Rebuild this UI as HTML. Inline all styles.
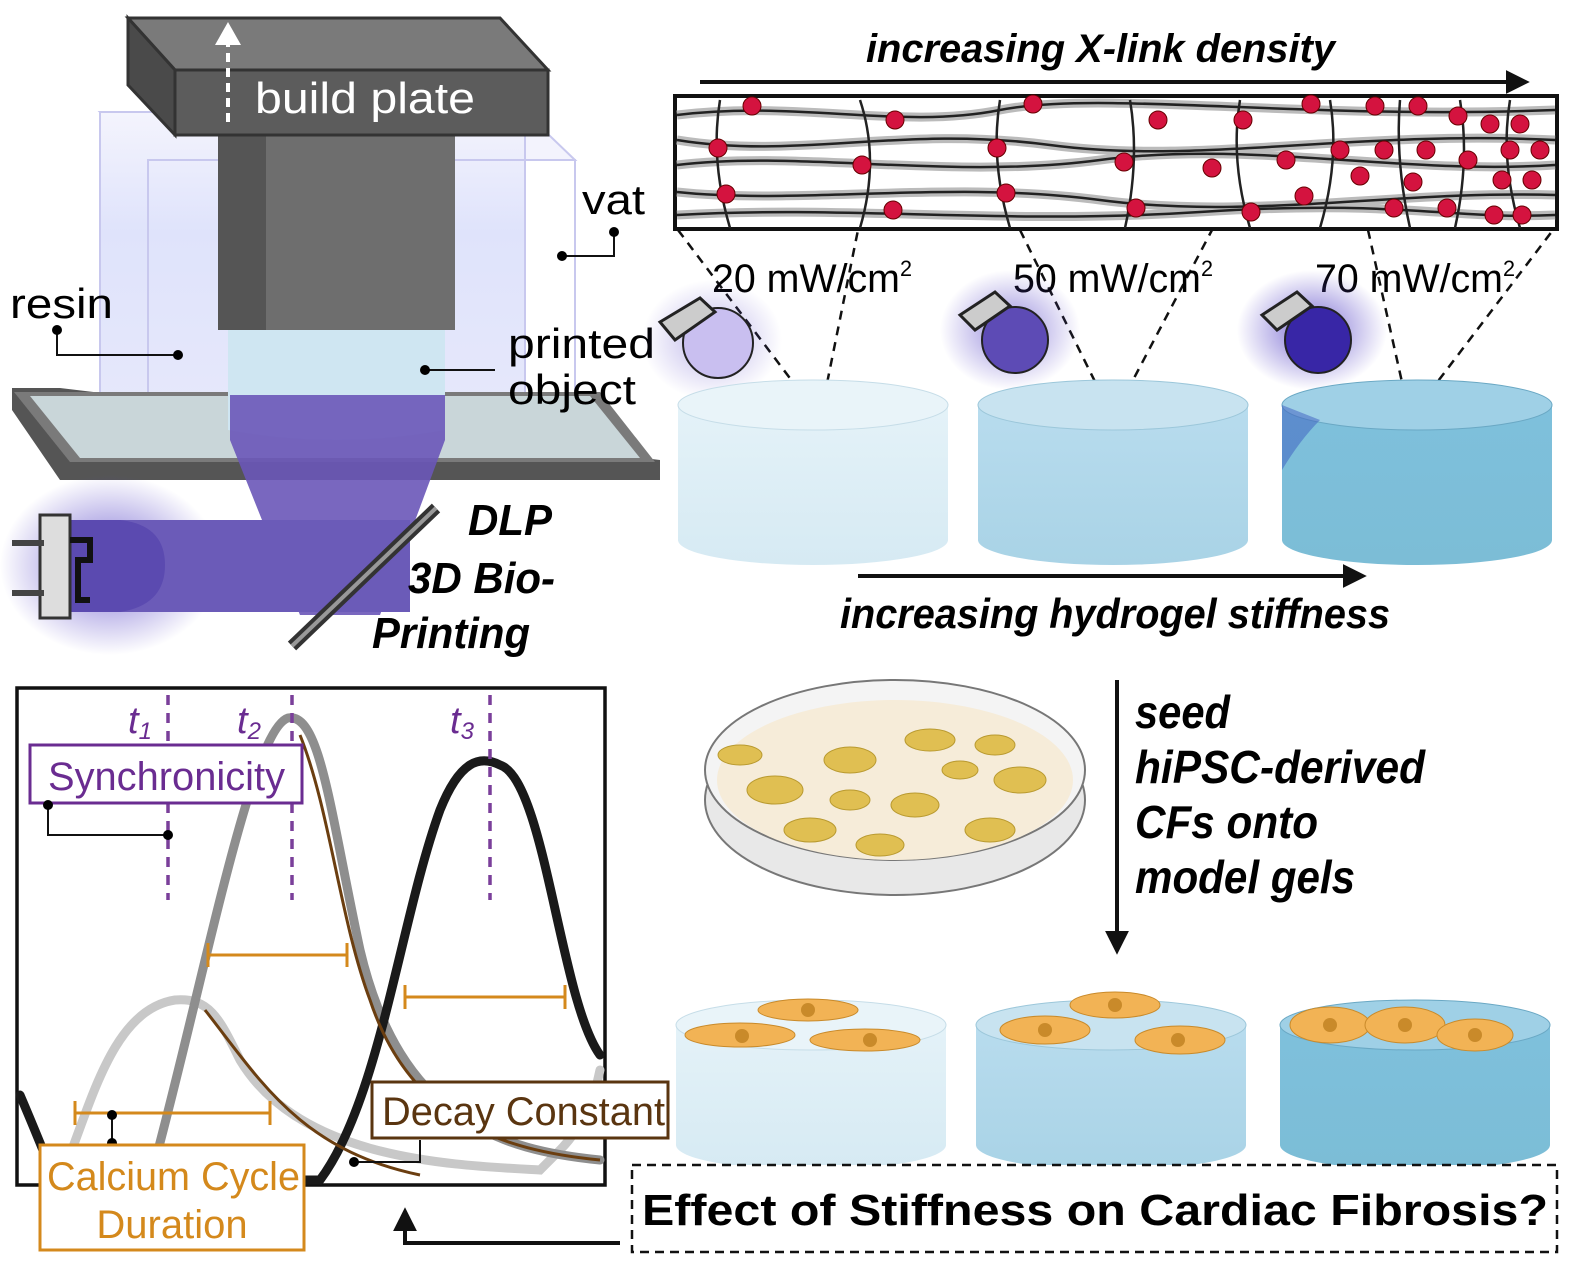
<!DOCTYPE html>
<html><head><meta charset="utf-8"><style>
html,body{margin:0;padding:0;background:#fff}
svg{display:block}
text{font-family:"Liberation Sans",sans-serif}
.bi{font-weight:bold;font-style:italic}
</style></head><body>
<svg width="1575" height="1268" viewBox="0 0 1575 1268" xmlns="http://www.w3.org/2000/svg">
<defs>
<linearGradient id="vatg" x1="0" y1="0" x2="0" y2="1"><stop offset="0" stop-color="#f4f4fd"/><stop offset="0.4" stop-color="#dfe3fb"/><stop offset="1" stop-color="#e6e8fb"/></linearGradient>
<radialGradient id="glow" cx="0.5" cy="0.5" r="0.5"><stop offset="0" stop-color="#5a48c8" stop-opacity="0.8"/><stop offset="1" stop-color="#5a48c8" stop-opacity="0"/></radialGradient>
<linearGradient id="g1" x1="0" y1="0" x2="0" y2="1"><stop offset="0" stop-color="#e4f2f8"/><stop offset="1" stop-color="#d6eaf3"/></linearGradient>
<linearGradient id="g2" x1="0" y1="0" x2="0" y2="1"><stop offset="0" stop-color="#b8dcee"/><stop offset="1" stop-color="#a9d3e6"/></linearGradient>
<linearGradient id="g3" x1="0" y1="0" x2="0" y2="1"><stop offset="0" stop-color="#7ec0dc"/><stop offset="1" stop-color="#7cbdd6"/></linearGradient>
<marker id="ah" viewBox="0 0 10 10" refX="8" refY="5" markerWidth="6" markerHeight="6" orient="auto"><path d="M0,0L10,5L0,10z" fill="#111"/></marker>
</defs>

<polygon points="100,112 148,160 575,160 525,112" fill="#f3f3fd" stroke="#c8c8ee" stroke-width="2"/>
<rect x="100" y="112" width="425" height="300" fill="url(#vatg)" stroke="#c8c8ee" stroke-width="2"/>
<rect x="148" y="160" width="427" height="282" fill="none" stroke="#c8c8ee" stroke-width="2"/>
<polygon points="12,388 60,388 660,460 660,480 60,480 12,410" fill="#555"/>
<polygon points="14,392 600,392 655,462 70,462" fill="#7a7a7a"/>
<polygon points="30,396 590,396 640,458 80,458" fill="#c9d6d9"/>
<rect x="218" y="135" width="237" height="195" fill="#6e6e6e"/>
<rect x="218" y="135" width="48" height="195" fill="#555"/>
<path d="M228,330 L445,330 L445,430 Q336,450 228,430 Z" fill="#cfe6f2"/>
<path d="M230,395 L445,395 L445,440 L380,615 L300,615 L230,440 Z" fill="#6a56b8" opacity="0.9"/>
<ellipse cx="110" cy="565" rx="110" ry="90" fill="url(#glow)"/>
<rect x="110" y="520" width="300" height="92" fill="#6b5bb8"/>
<path d="M60,520 L120,520 Q165,525 165,565 Q165,605 120,612 L60,612 Z" fill="#5b4ab0"/>
<rect x="40" y="515" width="30" height="103" fill="#ddd" stroke="#333" stroke-width="3"/>
<rect x="12" y="540" width="32" height="6" fill="#444"/><rect x="12" y="590" width="32" height="6" fill="#444"/>
<path d="M70,540 L90,540 L90,560 L78,560 L78,600 L90,600" fill="none" stroke="#111" stroke-width="6"/>
<line x1="292" y1="646" x2="436" y2="508" stroke="#333" stroke-width="12"/>
<line x1="292" y1="646" x2="436" y2="508" stroke="#999" stroke-width="4"/>
<polygon points="128,18 500,18 548,70 175,70" fill="#7a7a7a" stroke="#333" stroke-width="3"/>
<polygon points="128,18 175,70 175,135 128,85" fill="#4a4a4a" stroke="#333" stroke-width="3"/>
<rect x="175" y="70" width="373" height="65" fill="#5c5c5c" stroke="#333" stroke-width="3"/>
<text x="255" y="113" font-size="44" fill="#fff" textLength="220" lengthAdjust="spacingAndGlyphs">build plate</text>
<line x1="228" y1="122" x2="228" y2="40" stroke="#fff" stroke-width="4" stroke-dasharray="9,6"/>
<polygon points="215,45 228,22 241,45" fill="#fff"/>
<text x="582" y="214" font-size="42" textLength="63" lengthAdjust="spacingAndGlyphs">vat</text>
<path d="M614,232 L614,256 L562,256" fill="none" stroke="#111" stroke-width="2"/><circle cx="614" cy="232" r="5"/><circle cx="562" cy="256" r="5"/>
<text x="10" y="318" font-size="42" textLength="103" lengthAdjust="spacingAndGlyphs">resin</text>
<path d="M57,330 L57,355 L178,355" fill="none" stroke="#111" stroke-width="2"/><circle cx="57" cy="330" r="5"/><circle cx="178" cy="355" r="5"/>
<text x="508" y="358" font-size="42" textLength="147" lengthAdjust="spacingAndGlyphs">printed</text>
<text x="508" y="404" font-size="42" textLength="128" lengthAdjust="spacingAndGlyphs">object</text>
<path d="M425,370 L495,370" stroke="#111" stroke-width="2"/><circle cx="425" cy="370" r="5"/>
<text x="468" y="535" font-size="44" class="bi" textLength="84" lengthAdjust="spacingAndGlyphs">DLP</text>
<text x="408" y="593" font-size="44" class="bi" textLength="147" lengthAdjust="spacingAndGlyphs">3D Bio-</text>
<text x="372" y="648" font-size="44" class="bi" textLength="158" lengthAdjust="spacingAndGlyphs">Printing</text>

<text x="866" y="62" font-size="40" class="bi" textLength="469" lengthAdjust="spacingAndGlyphs">increasing X-link density</text>
<line x1="700" y1="82" x2="1525" y2="82" stroke="#111" stroke-width="4" marker-end="url(#ah)"/>
<rect x="675" y="96" width="882" height="133" fill="#fff" stroke="#111" stroke-width="4"/>
<g fill="none" stroke="#bbb" stroke-width="9">
<path d="M677,115 C800,100 900,130 1000,110 S1300,120 1555,110"/>
<path d="M677,140 C800,160 900,125 1050,145 S1350,130 1555,140"/>
<path d="M677,165 C800,150 950,180 1100,160 S1400,175 1555,165"/>
<path d="M677,192 C800,205 950,180 1100,200 S1400,190 1555,195"/>
<path d="M677,215 C850,205 1000,225 1200,212 S1450,220 1555,215"/>
</g>
<g fill="none" stroke="#222" stroke-width="2.5">
<path d="M677,115 C800,100 900,130 1000,110 S1300,120 1555,110"/>
<path d="M677,140 C800,160 900,125 1050,145 S1350,130 1555,140"/>
<path d="M677,165 C800,150 950,180 1100,160 S1400,175 1555,165"/>
<path d="M677,192 C800,205 950,180 1100,200 S1400,190 1555,195"/>
<path d="M677,215 C850,205 1000,225 1200,212 S1450,220 1555,215"/>
<path d="M720,100 Q710,160 730,228 M860,100 Q880,160 860,228 M1000,100 Q990,160 1010,228 M1130,100 Q1140,160 1125,228 M1240,100 Q1230,160 1250,228 M1330,100 Q1340,160 1320,228 M1400,100 Q1395,160 1410,228 M1460,100 Q1470,160 1455,228 M1510,100 Q1500,160 1520,228"/>
</g>
<g fill="#d4133f" stroke="#600" stroke-width="1">
<circle cx="752" cy="106" r="9"/><circle cx="718" cy="148" r="9"/><circle cx="726" cy="194" r="9"/>
<circle cx="895" cy="120" r="9"/><circle cx="862" cy="165" r="9"/><circle cx="893" cy="210" r="9"/>
<circle cx="1033" cy="104" r="9"/><circle cx="997" cy="148" r="9"/><circle cx="1006" cy="193" r="9"/>
<circle cx="1158" cy="120" r="9"/><circle cx="1124" cy="162" r="9"/><circle cx="1212" cy="168" r="9"/><circle cx="1136" cy="208" r="9"/>
<circle cx="1243" cy="120" r="9"/><circle cx="1286" cy="160" r="9"/><circle cx="1251" cy="212" r="9"/>
<circle cx="1311" cy="104" r="9"/><circle cx="1340" cy="150" r="9"/><circle cx="1304" cy="196" r="9"/>
<circle cx="1375" cy="106" r="9"/><circle cx="1384" cy="150" r="9"/><circle cx="1360" cy="176" r="9"/><circle cx="1394" cy="208" r="9"/>
<circle cx="1418" cy="106" r="9"/><circle cx="1426" cy="150" r="9"/><circle cx="1413" cy="182" r="9"/><circle cx="1447" cy="208" r="9"/>
<circle cx="1458" cy="116" r="9"/><circle cx="1468" cy="160" r="9"/><circle cx="1494" cy="215" r="9"/>
<circle cx="1490" cy="124" r="9"/><circle cx="1510" cy="150" r="9"/><circle cx="1502" cy="180" r="9"/>
<circle cx="1520" cy="124" r="9"/><circle cx="1540" cy="150" r="9"/><circle cx="1532" cy="180" r="9"/><circle cx="1522" cy="215" r="9"/>
</g>
<g stroke="#111" stroke-width="2.5" stroke-dasharray="9,7" fill="none">
<path d="M678,230 L820,418 L858,230"/><path d="M1020,230 L1113,418 L1212,230"/><path d="M1368,230 L1410,418 L1553,230"/>
</g>
<text x="712" y="292" font-size="40" textLength="200" lengthAdjust="spacingAndGlyphs">20 mW/cm<tspan font-size="22" dy="-16">2</tspan></text>
<text x="1013" y="292" font-size="40" textLength="200" lengthAdjust="spacingAndGlyphs">50 mW/cm<tspan font-size="22" dy="-16">2</tspan></text>
<text x="1315" y="292" font-size="40" textLength="200" lengthAdjust="spacingAndGlyphs">70 mW/cm<tspan font-size="22" dy="-16">2</tspan></text>
<ellipse cx="712" cy="340" rx="70" ry="60" fill="url(#glow)" opacity="0.5"/>
<ellipse cx="1010" cy="330" rx="70" ry="60" fill="url(#glow)" opacity="0.8"/>
<ellipse cx="1312" cy="330" rx="75" ry="60" fill="url(#glow)"/>
<circle cx="718" cy="343" r="35" fill="#c9bff0" stroke="#222" stroke-width="2"/>
<circle cx="1015" cy="340" r="33" fill="#5d4bb5" stroke="#222" stroke-width="2"/>
<circle cx="1318" cy="340" r="33" fill="#3826a6" stroke="#222" stroke-width="2"/>
<g fill="#ccc" stroke="#222" stroke-width="3">
<path d="M660,322 L700,298 L715,312 L675,340 Z"/><path d="M960,315 L995,292 L1010,306 L975,330 Z"/><path d="M1262,315 L1297,292 L1312,306 L1277,330 Z"/>
</g>
<path d="M678,405 L678,540 A135,25 0 0 0 948,540 L948,405 Z" fill="url(#g1)"/><ellipse cx="813" cy="405" rx="135" ry="25" fill="#e9f4f9" stroke="#c6dde8"/>
<path d="M978,405 L978,540 A135,25 0 0 0 1248,540 L1248,405 Z" fill="url(#g2)"/><ellipse cx="1113" cy="405" rx="135" ry="25" fill="#c8e3f0" stroke="#9cc7da"/>
<path d="M1282,405 L1282,540 A135,25 0 0 0 1552,540 L1552,405 Z" fill="url(#g3)"/><ellipse cx="1417" cy="405" rx="135" ry="25" fill="#9fd0e6" stroke="#6aa8c4"/>
<path d="M1282,405 L1282,470 Q1300,440 1320,420 Z" fill="#3b5cc0" opacity="0.5"/>
<line x1="858" y1="576" x2="1362" y2="576" stroke="#111" stroke-width="4" marker-end="url(#ah)"/>
<text x="840" y="628" font-size="42" class="bi" textLength="550" lengthAdjust="spacingAndGlyphs">increasing hydrogel stiffness</text>

<ellipse cx="895" cy="800" rx="190" ry="95" fill="#e8e8e8" stroke="#777" stroke-width="2"/>
<ellipse cx="895" cy="770" rx="190" ry="90" fill="#f4f4f4" stroke="#777" stroke-width="2"/>
<ellipse cx="895" cy="780" rx="178" ry="80" fill="#f6ecd9"/>
<g fill="#e0bf52" stroke="#b99a30">
<ellipse cx="775" cy="790" rx="28" ry="14"/><ellipse cx="850" cy="760" rx="26" ry="13"/><ellipse cx="915" cy="805" rx="24" ry="12"/><ellipse cx="1020" cy="780" rx="26" ry="13"/><ellipse cx="930" cy="740" rx="25" ry="11"/><ellipse cx="810" cy="830" rx="26" ry="12"/><ellipse cx="990" cy="830" rx="25" ry="12"/><ellipse cx="880" cy="845" rx="24" ry="11"/><ellipse cx="740" cy="755" rx="22" ry="10"/><ellipse cx="995" cy="745" rx="20" ry="10"/><ellipse cx="850" cy="800" rx="20" ry="10"/><ellipse cx="960" cy="770" rx="18" ry="9"/>
</g>
<line x1="1117" y1="680" x2="1117" y2="950" stroke="#111" stroke-width="4" marker-end="url(#ah)"/>
<text x="1135" y="728" font-size="46" class="bi" textLength="95" lengthAdjust="spacingAndGlyphs">seed</text>
<text x="1135" y="783" font-size="46" class="bi" textLength="290" lengthAdjust="spacingAndGlyphs">hiPSC-derived</text>
<text x="1135" y="838" font-size="46" class="bi" textLength="183" lengthAdjust="spacingAndGlyphs">CFs onto</text>
<text x="1135" y="893" font-size="46" class="bi" textLength="220" lengthAdjust="spacingAndGlyphs">model gels</text>

<path d="M676,1025 L676,1145 A135,25 0 0 0 946,1145 L946,1025 Z" fill="url(#g1)"/><ellipse cx="811" cy="1025" rx="135" ry="25" fill="#e9f4f9" stroke="#c6dde8"/>
<path d="M976,1025 L976,1145 A135,25 0 0 0 1246,1145 L1246,1025 Z" fill="url(#g2)"/><ellipse cx="1111" cy="1025" rx="135" ry="25" fill="#c8e3f0" stroke="#9cc7da"/>
<path d="M1280,1025 L1280,1145 A135,25 0 0 0 1550,1145 L1550,1025 Z" fill="url(#g3)"/><ellipse cx="1415" cy="1025" rx="135" ry="25" fill="#9fd0e6" stroke="#6aa8c4"/>
<g fill="#f2b355" stroke="#c98a2a">
<ellipse cx="740" cy="1035" rx="55" ry="12"/><ellipse cx="808" cy="1010" rx="50" ry="11"/><ellipse cx="865" cy="1040" rx="55" ry="11"/>
<ellipse cx="1045" cy="1030" rx="45" ry="14"/><ellipse cx="1115" cy="1005" rx="45" ry="13"/><ellipse cx="1180" cy="1040" rx="45" ry="14"/>
<ellipse cx="1330" cy="1025" rx="40" ry="18"/><ellipse cx="1405" cy="1025" rx="40" ry="18"/><ellipse cx="1475" cy="1035" rx="38" ry="16"/>
</g>
<g fill="#c98a2a"><circle cx="742" cy="1036" r="7"/><circle cx="808" cy="1010" r="7"/><circle cx="870" cy="1040" r="7"/><circle cx="1045" cy="1030" r="7"/><circle cx="1115" cy="1005" r="7"/><circle cx="1178" cy="1040" r="7"/><circle cx="1330" cy="1025" r="7"/><circle cx="1405" cy="1025" r="7"/><circle cx="1475" cy="1035" r="7"/></g>

<rect x="17" y="688" width="588" height="497" fill="#fff" stroke="#111" stroke-width="3.5"/>
<g fill="none" stroke-width="9" stroke-linecap="round">
<path d="M60,1180 C90,1110 110,1010 175,1000 C210,997 220,1020 240,1060 C300,1160 450,1165 540,1170 L560,1150 Q590,1120 600,1070" stroke="#c8c8c8"/>
<path d="M150,1180 C200,1000 250,730 288,718 C320,712 330,810 360,950 C400,1120 500,1150 600,1160" stroke="#8e8e8e"/>
<path d="M20,1095 Q35,1130 55,1180 L320,1180 C380,1100 400,920 440,810 C460,760 480,755 500,765 C545,780 560,1000 600,1055" stroke="#1a1a1a"/>
</g>
<g fill="none" stroke="#6b3e10" stroke-width="3">
<path d="M300,735 C330,810 340,920 370,1000 C410,1120 500,1150 600,1160"/>
<path d="M205,1010 C260,1080 300,1150 420,1175"/>
</g>
<g stroke="#7a3f9a" stroke-width="3.5" stroke-dasharray="10,8"><line x1="168" y1="695" x2="168" y2="900"/><line x1="292" y1="695" x2="292" y2="900"/><line x1="490" y1="695" x2="490" y2="900"/></g>
<text x="128" y="733" font-size="38" font-style="italic" fill="#6a2c91">t<tspan font-size="24" dy="6">1</tspan></text>
<text x="237" y="733" font-size="38" font-style="italic" fill="#6a2c91">t<tspan font-size="24" dy="6">2</tspan></text>
<text x="450" y="733" font-size="38" font-style="italic" fill="#6a2c91">t<tspan font-size="24" dy="6">3</tspan></text>
<rect x="30" y="745" width="272" height="58" fill="#fff" stroke="#6a2c91" stroke-width="3"/>
<text x="48" y="790" font-size="40" fill="#6a2c91" textLength="237" lengthAdjust="spacingAndGlyphs">Synchronicity</text>
<path d="M48,803 L48,835 L168,835" fill="none" stroke="#111" stroke-width="2"/><circle cx="48" cy="805" r="5"/><circle cx="168" cy="835" r="5"/>
<g stroke="#d4891c" stroke-width="3">
<line x1="208" y1="955" x2="347" y2="955"/><line x1="208" y1="943" x2="208" y2="967"/><line x1="347" y1="943" x2="347" y2="967"/>
<line x1="405" y1="997" x2="565" y2="997"/><line x1="405" y1="985" x2="405" y2="1009"/><line x1="565" y1="985" x2="565" y2="1009"/>
<line x1="75" y1="1113" x2="270" y2="1113"/><line x1="75" y1="1101" x2="75" y2="1125"/><line x1="270" y1="1101" x2="270" y2="1125"/>
</g>
<path d="M112,1115 L112,1145" stroke="#111" stroke-width="2"/><circle cx="112" cy="1115" r="5"/><circle cx="112" cy="1143" r="5"/>
<rect x="372" y="1082" width="296" height="56" fill="#fff" stroke="#5a3510" stroke-width="3"/>
<text x="382" y="1125" font-size="40" fill="#5a3510" textLength="283" lengthAdjust="spacingAndGlyphs">Decay Constant</text>
<path d="M420,1140 L420,1162 L354,1162" fill="none" stroke="#111" stroke-width="2"/><circle cx="354" cy="1162" r="5"/>
<rect x="40" y="1145" width="264" height="105" fill="#fff" stroke="#d4891c" stroke-width="3"/>
<text x="47" y="1190" font-size="40" fill="#d4891c" textLength="253" lengthAdjust="spacingAndGlyphs">Calcium Cycle</text>
<text x="172" y="1238" font-size="40" fill="#d4891c" text-anchor="middle">Duration</text>

<rect x="632" y="1165" width="925" height="87" fill="#fff" stroke="#111" stroke-width="2.5" stroke-dasharray="9,6"/>
<text x="642" y="1225" font-size="44" font-weight="bold" textLength="906" lengthAdjust="spacingAndGlyphs">Effect of Stiffness on Cardiac Fibrosis?</text>
<path d="M620,1243 L405,1243 L405,1212" fill="none" stroke="#111" stroke-width="4" marker-end="url(#ah)"/>
</svg>
</body></html>
